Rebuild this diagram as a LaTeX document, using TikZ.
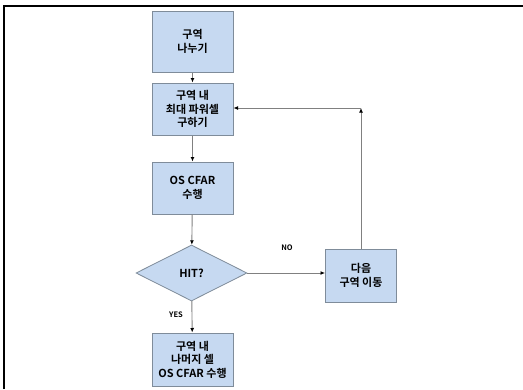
\documentclass[tikz,border=0pt]{standalone}
\usepackage{fontspec}
\setmainfont{Noto Sans CJK KR}[BoldFont={Noto Sans CJK KR Bold}]
\usetikzlibrary{shapes.geometric,arrows.meta}
\definecolor{boxfill}{HTML}{C6D9F1}
\definecolor{boxline}{HTML}{7F8C9A}
\definecolor{conn}{HTML}{808080}
\tikzset{
  stepbox/.style={draw=boxline, fill=boxfill, line width=1pt, minimum width=81pt, inner sep=0pt,
    align=center, font=\bfseries\fontsize{11}{13.5}\selectfont},
  decision/.style={diamond, draw=boxline, fill=boxfill, line width=0.8pt, minimum width=111pt,
    minimum height=56pt, inner sep=0pt, font=\bfseries\fontsize{11}{13.5}\selectfont},
  conn/.style={draw=conn, line width=0.9pt, -{Latex[length=4.5pt,width=4pt,color=black]}},
  lbl/.style={font=\bfseries\fontsize{7.5}{9}\selectfont, inner sep=0pt}
}
\begin{document}
\begin{tikzpicture}[x=1pt,y=-1pt]
\useasboundingbox (0,0) rectangle (523,389);
\draw[line width=1.6pt] (4,389) -- (4,6) -- (523,6);
\node[stepbox, minimum height=61pt] (b1) at (192.5,41.5) {구역\\나누기};
\node[stepbox, minimum height=52pt] (b2) at (192.5,109) {구역 내\\최대 파워셀\\구하기};
\node[stepbox, minimum height=52pt] (b3) at (192.5,188) {OS CFAR\\수행};
\node[decision] (d) at (191.5,273) {HIT?};
\node[stepbox, minimum width=71pt, minimum height=53pt] (b4) at (361,275.5) {다음\\구역 이동};
\node[stepbox, minimum height=53pt] (b5) at (192.5,359.5) {구역 내\\나머지 셀\\OS CFAR 수행};
\coordinate (c) at (361,108);
\draw[conn] (b1) -- (b2);
\draw[conn] (b2) -- (b3);
\draw[conn] (b3) -- (d);
\draw[conn] (d.east) -- (d.east -| b4.west);
\draw[conn] (d) -- (b5);
\draw[conn] (b4.north) -- (c);
\draw[conn] (c) -- (b2.east |- c);
\node[lbl] (no) at (287,248) {NO};
\node[lbl] (yes) at (176,315) {YES};
\end{tikzpicture}
\end{document}
